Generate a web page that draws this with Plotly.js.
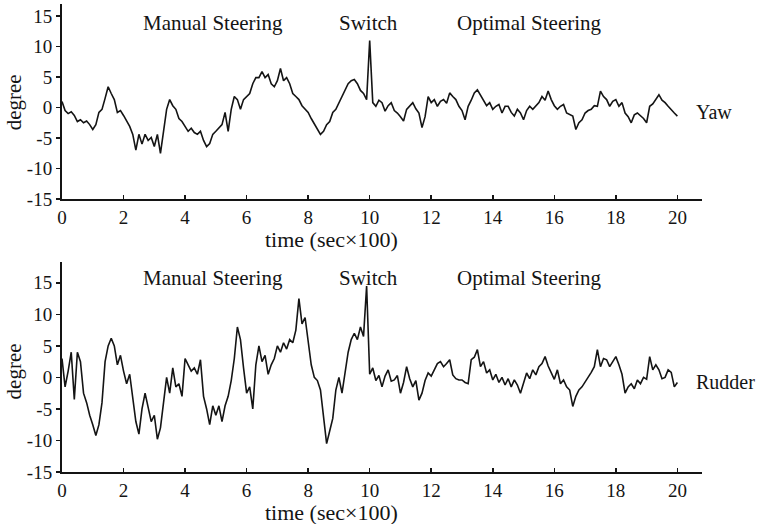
<!DOCTYPE html>
<html>
<head>
<meta charset="utf-8">
<script src="https://cdn.plot.ly/plotly-3.0.1.min.js"></script>
<style>html,body{margin:0;padding:0;background:#fff;}#chart{width:758px;height:524px;}</style>
</head>
<body>
<div id="chart"></div>
<script>
// time step of the sampled traces (sec x 100)
const timeStep = 0.1;

// Yaw angle (degree), sampled every 0.1 from 0 to 20
const yaw = [
  1, -0.5, -1, -0.7, -1.3, -2.3, -2, -2.5, -2.2, -2.8,
  -3.6, -2.8, -0.8, -0.3, 1.5, 3.4, 2.3, 1.3, -0.8, -0.5,
  -1.3, -2.3, -3.1, -4.4, -7, -4.4, -6, -4.4, -5.4, -4.9,
  -6.4, -4.4, -7.5, -3.9, -0.3, 1.3, 0.3, -0.3, -1.8, -2.3,
  -3.1, -3.9, -3.4, -4.1, -4.4, -3.9, -5.4, -6.4, -5.9, -4.4,
  -3.9, -3.4, -2.8, -0.8, -3.9, -0.3, 1.8, 1.3, -0.3, 1.3,
  1.8, 2.3, 3.9, 4.9, 4.9, 5.9, 4.9, 5.4, 3.9, 3.4,
  4.4, 6.4, 4.4, 4.9, 3.9, 2.3, 1.8, 1.3, 0.3, -0.3,
  -0.8, -1.8, -2.6, -3.4, -4.4, -3.9, -2.8, -2.3, -0.8, -0.3,
  0.8, 1.8, 2.8, 3.9, 4.4, 4.6, 3.9, 2.8, 2.3, 1.3,
  11, 0.8, 0.2, 1.2, 0.8, -0.6, 0.3, 0.8, -0.5, -0.9,
  -1.5, -2.2, -0.3, 0.2, 0.8, -0.2, -0.9, -3.3, -1.5, 1.8,
  0.8, 1.3, 0.2, 1.0, 1.3, 0.7, 2.4, 1.8, 1.3, 0.2,
  -0.5, -2, 0.2, 1.2, 2.4, 2.9, 2.0, 1.3, 0.3, 0.8,
  -0.3, 0.2, 0.5, -0.9, 0.2, 0.2, -0.8, -1.4, -0.3, -0.9,
  -2, -0.5, 0.2, -0.3, 0.3, 0.8, 1.8, 1.2, 2.7, 1.3,
  0.3, -0.3, 0.2, 0.5, -0.9, -1.2, -1.4, -3.6, -2.5, -2,
  -0.9, -0.5, -0.3, 0.3, 0.2, 2.7, 1.8, 1.3, 0.2, 1.0,
  1.3, 0.2, 0.8, -0.9, -1.5, -2.5, -1.2, -0.9, -1.4, -1.8,
  -2.5, 0.2, 0.6, 1.3, 2.1, 1.2, 0.8, 0.2, -0.4, -0.9,
  -1.4
];

// Rudder angle (degree), sampled every 0.1 from 0 to 20
const rudder = [
  3, -1.5, 1, 4, -3.5, 4, 2.5, -2.5, -4, -6,
  -7.5, -9.2, -7.5, -4, 2.5, 5, 6.2, 5, 2, 3.5,
  1, -1, 0.5, -3, -7, -9, -5, -2.5, -5, -7,
  -6, -9.8, -8, -3.5, 0, -2.5, 1.5, -1.5, -1, -3,
  3, 2, 1, 1.5, 0.5, 2.8, -3, -5, -7.5, -4.5,
  -6, -4.5, -7, -4.5, -3, -0.5, 3, 8, 6, 1.5,
  -2.5, -1.5, -5, 2, 5, 2.5, 3.5, 0.5, 2, 3,
  5, 4, 5.5, 4.5, 6, 5.5, 7.5, 12.5, 8.5, 9.5,
  6, 2, 0, -0.5, -2, -6.5, -10.5, -8.5, -6.5, -2,
  0, -2.5, 1, 4, 6, 7, 6, 8, 6.5, 14.5,
  0.5, 1.5, -0.5, 0.3, -1.5, 0.2, 1.2, -0.6, -0.4, 0.3,
  -2.5, -0.8, 1.7, -0.2, -1.5, -0.5, -3.6, -2.5, -0.5, 0.7,
  0.2, 1.2, 2.2, 2.5, 1.7, 2.2, 2.8, 0.4, -0.2, -0.4,
  -0.4, -0.8, -1, 2.8, 3.2, 4.4, 1.7, 2.5, 0.7, 1.2,
  -0.4, 0.5, -0.8, 0, -1.2, -0.2, -1.5, -0.4, -1.2, -2.5,
  -0.8, 0.7, -0.2, 1.2, 0.4, 1.7, 2.2, 3.3, 1.8, 0.7,
  -0.3, 1.2, -1, -0.4, -1.5, -2, -4.6, -3, -2, -1.5,
  -0.8, 0, 0.8, 1.7, 4.4, 1.7, 3, 2.8, 1.7, 2.5,
  3.3, 2, 0.5, -2.5, -1.5, -1, -1.8, -0.4, -1, 0,
  -0.3, 3.3, 1.2, 2, 1.2, -0.2, 0, 1.2, 0.8, -1.5,
  -0.8
];

const xTicks = [0, 2, 4, 6, 8, 10, 12, 14, 16, 18, 20];
const yTicks = [-15, -10, -5, 0, 5, 10, 15];
const phaseLabels = ["Manual Steering", "Switch", "Optimal Steering"];
const phaseCenters = [4.9, 9.95, 15.2];
const seriesNames = ["Yaw", "Rudder"];
const xTitle = "time (sec×100)";
const yTitle = "degree";

const time = yaw.map((_, i) => +(i * timeStep).toFixed(2));

const serif = "Liberation Serif, Times New Roman, serif";
const ink = "#141414";

const traces = [
  {x: time, y: yaw, xaxis: "x", yaxis: "y", type: "scatter", mode: "lines",
   line: {color: ink, width: 1.6}, hoverinfo: "skip", showlegend: false},
  {x: time, y: rudder, xaxis: "x2", yaxis: "y2", type: "scatter", mode: "lines",
   line: {color: ink, width: 1.6}, hoverinfo: "skip", showlegend: false}
];

function xAxis(anchor) {
  return {
    anchor: anchor, domain: [0, 1], range: [0, 20.8],
    tickvals: xTicks, ticktext: xTicks.map(String),
    ticks: "inside", ticklen: 4, tickwidth: 1.5, tickcolor: ink,
    showline: true, linecolor: ink, linewidth: 2,
    showgrid: false, zeroline: false,
    tickfont: {family: serif, size: 19, color: ink}
  };
}
function yAxis(anchor, domain, top) {
  return {
    anchor: anchor, domain: domain, range: [-15, top],
    tickvals: yTicks, ticktext: yTicks.map(String),
    ticks: "outside", ticklen: 4, tickwidth: 1.5, tickcolor: ink,
    showline: true, linecolor: ink, linewidth: 2,
    showgrid: false, zeroline: false,
    tickfont: {family: serif, size: 19, color: ink}
  };
}

const annotations = [];
const panels = [
  {xref: "x", yref: "y", labelY: 13.9, name: seriesNames[0], nameY: -0.7, titleY: 0.583},
  {xref: "x2", yref: "y2", labelY: 15.8, name: seriesNames[1], nameY: -0.7, titleY: 0}
];
panels.forEach(p => {
  phaseLabels.forEach((txt, i) => {
    annotations.push({text: txt, x: phaseCenters[i], y: p.labelY, xref: p.xref, yref: p.yref,
      showarrow: false, xanchor: "center", yanchor: "middle",
      font: {family: serif, size: 21, color: ink}});
  });
  annotations.push({text: p.name, x: 20.55, y: p.nameY, xref: p.xref, yref: p.yref,
    showarrow: false, xanchor: "left", yanchor: "middle",
    font: {family: serif, size: 20, color: ink}});
  annotations.push({text: xTitle, x: 8.75, xref: p.xref, y: p.titleY, yref: "paper",
    yshift: -40, showarrow: false, xanchor: "center", yanchor: "middle",
    font: {family: serif, size: 22, color: ink}});
});
annotations.push({text: yTitle, x: -0.075, xref: "paper", y: 0.79, yref: "paper",
  textangle: -90, showarrow: false, xanchor: "center", yanchor: "middle",
  font: {family: serif, size: 21, color: ink}});
annotations.push({text: yTitle, x: -0.075, xref: "paper", y: 0.215, yref: "paper",
  textangle: -90, showarrow: false, xanchor: "center", yanchor: "middle",
  font: {family: serif, size: 21, color: ink}});

const layout = {
  width: 758, height: 524,
  margin: {l: 62, r: 56, t: 4, b: 52},
  paper_bgcolor: "#fff", plot_bgcolor: "#fff",
  showlegend: false,
  xaxis: xAxis("y"),
  yaxis: yAxis("x", [0.5833, 1], 16.97),
  xaxis2: xAxis("y2"),
  yaxis2: yAxis("x2", [0, 0.4487], 18.3),
  annotations: annotations
};

Plotly.newPlot("chart", traces, layout, {displayModeBar: false, staticPlot: true});
</script>
</body>
</html>
